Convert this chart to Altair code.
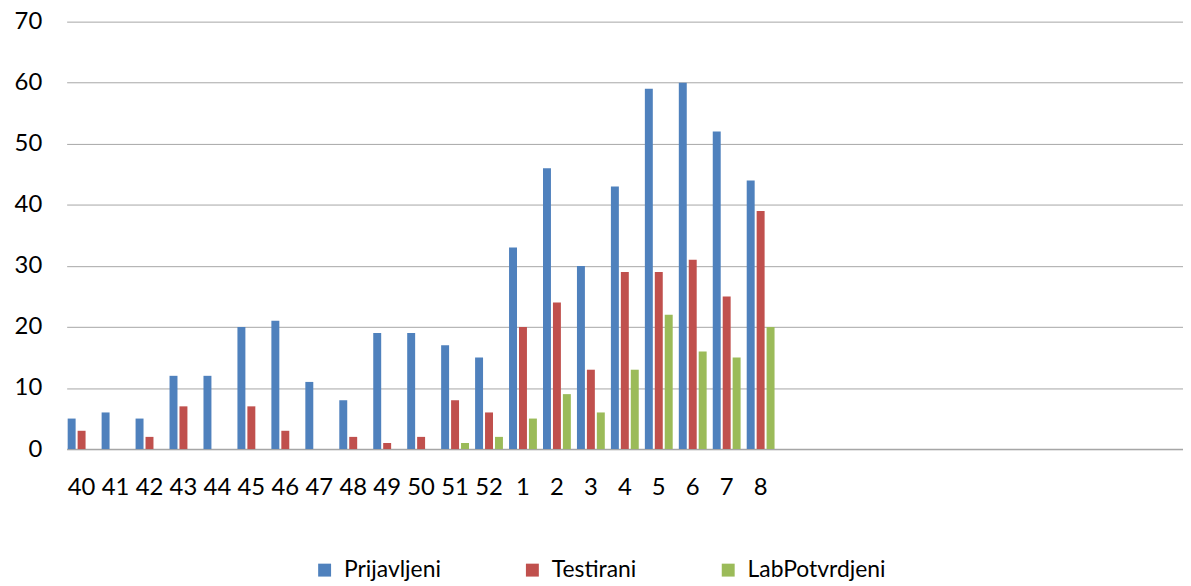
import altair as alt
import pandas as pd

weeks = ["40", "41", "42", "43", "44", "45", "46", "47", "48", "49", "50", "51", "52",
         "1", "2", "3", "4", "5", "6", "7", "8"]
empty_weeks = [str(i) for i in range(9, 21)]
prijavljeni = [5, 6, 5, 12, 12, 20, 21, 11, 8, 19, 19, 17, 15, 33, 46, 30, 43, 59, 60, 52, 44]
testirani = [3, 0, 2, 7, 0, 7, 3, 0, 2, 1, 2, 8, 6, 20, 24, 13, 29, 29, 31, 25, 39]
labpotvrdjeni = [0, 0, 0, 0, 0, 0, 0, 0, 0, 0, 0, 1, 2, 5, 9, 6, 13, 22, 16, 15, 20]
series = ["Prijavljeni", "Testirani", "LabPotvrdjeni"]
colors = ["#4F81BD", "#C0504D", "#9BBB59"]

rows = []
for name, vals in zip(series, [prijavljeni, testirani, labpotvrdjeni]):
    for w, v in zip(weeks, vals):
        rows.append({"week": w, "series": name, "value": v})
df = pd.DataFrame(rows)

FONT = "Lato"

chart = alt.Chart(df).mark_bar().encode(
    x=alt.X("week:N", scale=alt.Scale(domain=weeks + empty_weeks, paddingInner=0.18, paddingOuter=0.03, round=False),
            axis=alt.Axis(title=None, labelAngle=0, ticks=False, labelPadding=27,
                          labelExpr="toNumber(datum.value) >= 9 && toNumber(datum.value) <= 20 ? '' : datum.label",
                          labelFontSize=24, labelFont=FONT, labelColor="#000000",
                          domainColor="#A6A6A6", domainWidth=1.5, grid=False)),
    xOffset=alt.XOffset("series:N", scale=alt.Scale(domain=series, paddingInner=0.2, round=False)),
    y=alt.Y("value:Q", scale=alt.Scale(domain=[0, 70]),
            axis=alt.Axis(title=None, values=[0, 10, 20, 30, 40, 50, 60, 70], ticks=False, domain=False,
                          labelPadding=25, labelFontSize=24, labelFont=FONT, labelColor="#000000",
                          gridColor="#A6A6A6", gridWidth=1)),
    color=alt.Color("series:N", scale=alt.Scale(domain=series, range=colors),
                    legend=alt.Legend(title=None, orient="none", direction="horizontal",
                                      legendX=248, legendY=540, symbolType="square", symbolSize=169,
                                      symbolStrokeWidth=0, labelFontSize=23, labelFont=FONT,
                                      labelColor="#000000", labelOffset=8, columnPadding=80, padding=0)),
).properties(
    width=1123, height=430,
    autosize=alt.AutoSizeParams(type="none"),
    padding={"left": 59, "top": 12, "right": 0, "bottom": 136},
).configure_view(stroke=None)

chart.save("out.html", embed_options={"renderer": "svg", "actions": False})
